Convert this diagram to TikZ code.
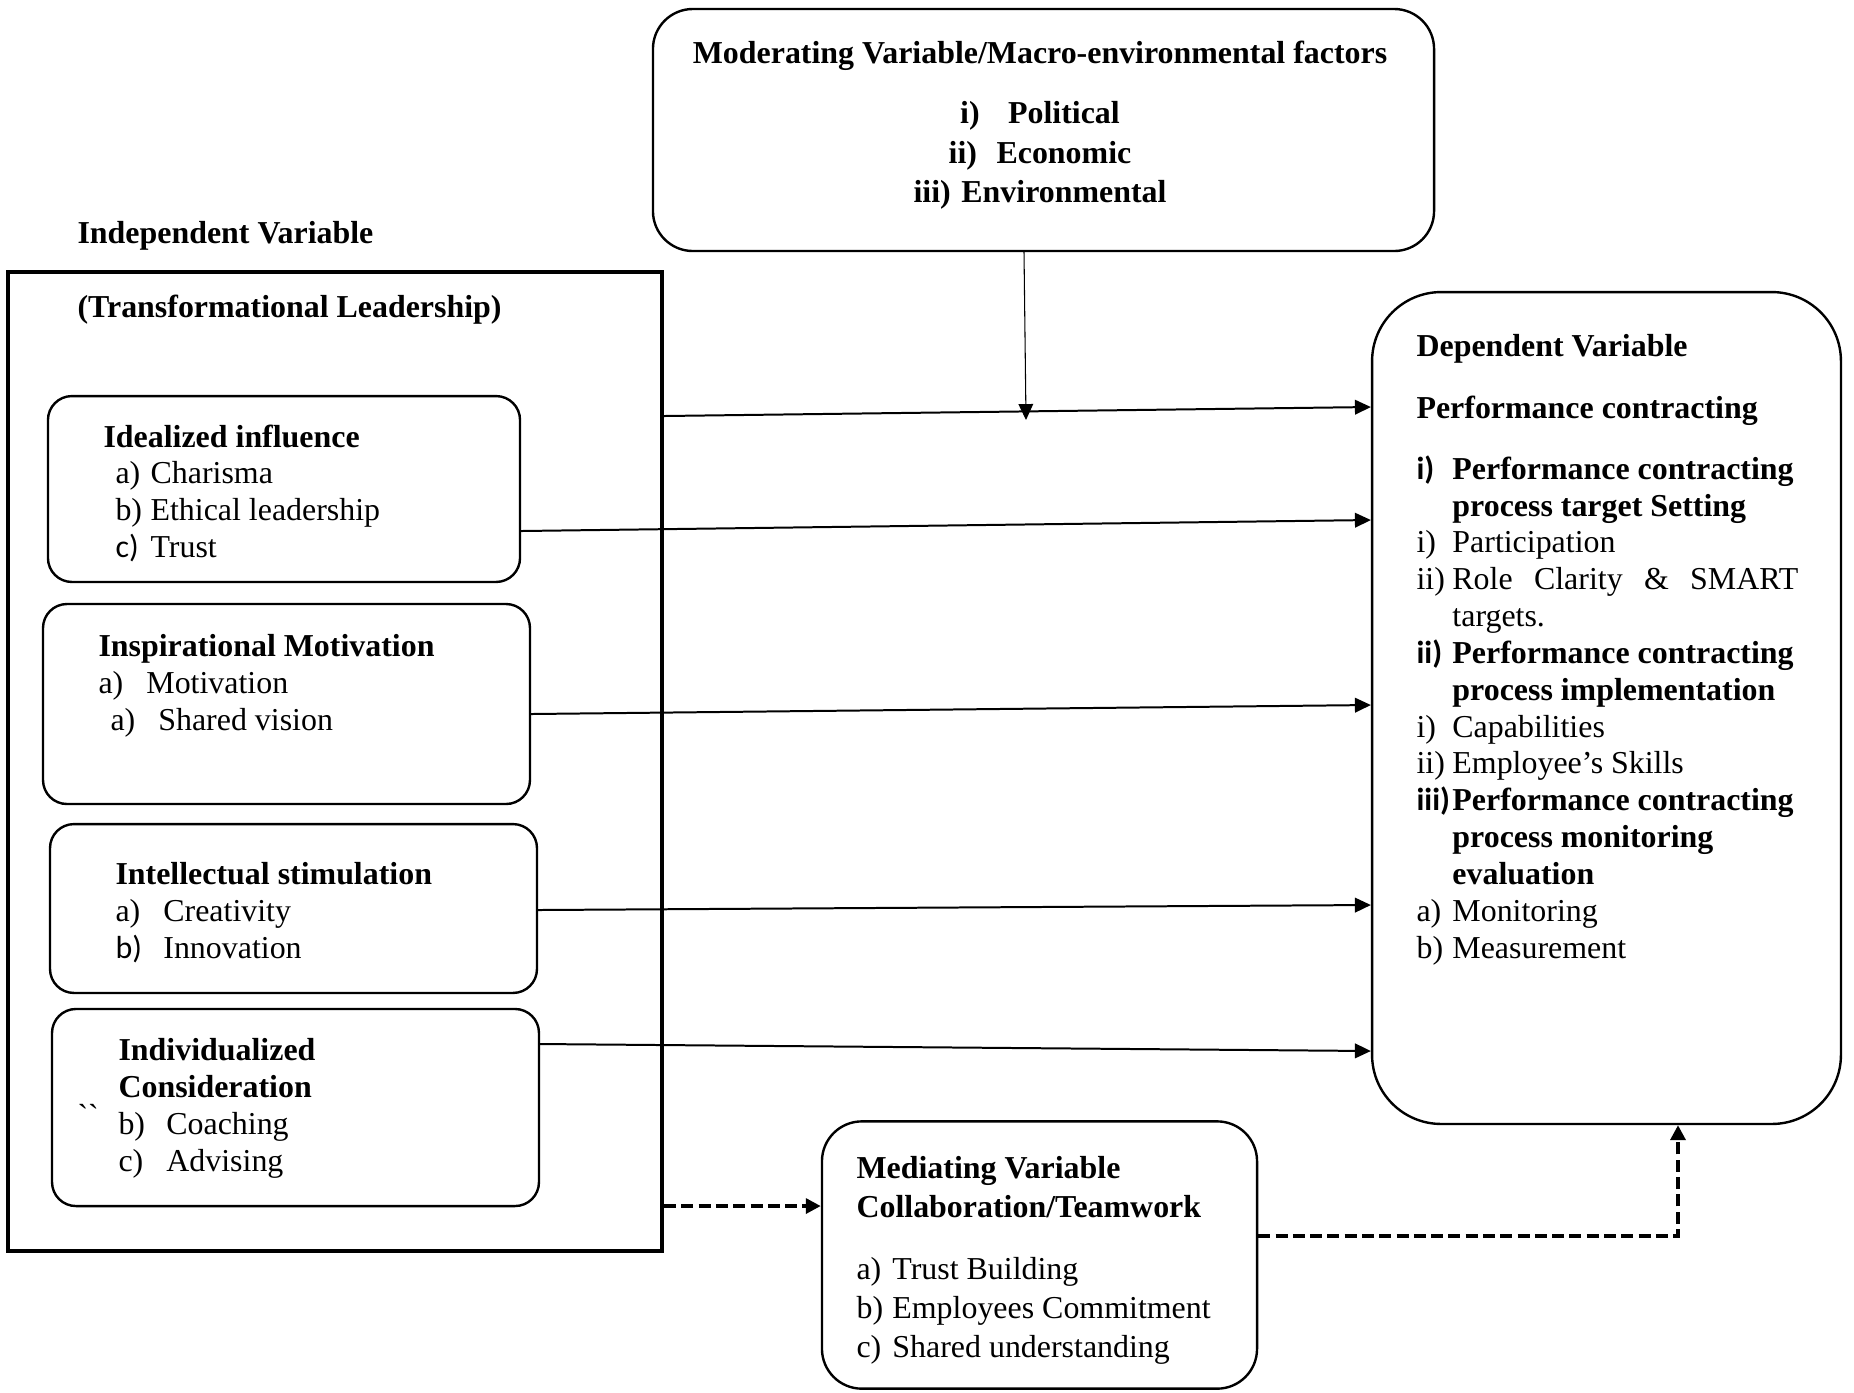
\documentclass[tikz,border=0pt]{standalone}
\usepackage{fontspec}
\setmainfont{Liberation Serif}
\newfontfamily\calfont{Carlito}
\usepackage{tikz}
\usetikzlibrary{arrows.meta, positioning, calc}

% label box of fixed width, then the item text
\newcommand{\itm}[3]{\makebox[#1][l]{#2}#3}

\begin{document}
\begin{tikzpicture}[x=0.376pt, y=-0.376pt,
			card/.style={rectangle, draw, line width=0.9pt, rounded corners=9pt},
			frame/.style={rectangle, draw, line width=1.6pt},
			txt/.style={anchor=north west, inner sep=0pt, align=left, font=\fontsize{12}{13.85}\selectfont},
			arrow/.style={-{Triangle[length=6pt, width=5.5pt]}, line width=0.75pt},
			thinarrow/.style={-{Triangle[length=6pt, width=5.5pt]}, line width=0.4pt},
			dasharrow/.style={-{Triangle[length=5.6pt, width=5.6pt]}, line width=1.3pt, dash pattern=on 4.5pt off 2pt}
		]
		\useasboundingbox (0,0) rectangle (1854,1392);
		
		% Containers
		\node[card, rounded corners=15pt, minimum width=293.7pt, minimum height=91pt] (moderating) at (1043.5,130) {};
		\node[frame, minimum width=245.9pt, minimum height=368.1pt] (indep) at (335,761.5) {};
		\node[card, rounded corners=26pt, minimum width=176.3pt, minimum height=312.8pt] (dependent) at (1606.5,708) {};
		\node[card, rounded corners=15pt, minimum width=163.6pt, minimum height=100.5pt] (mediating) at (1039.5,1255) {};
		
		% Leadership dimensions
		\node[card, minimum width=177.5pt, minimum height=69.9pt] (idealized) at (284,489) {};
		\node[card, minimum width=183.1pt, minimum height=75.2pt] (inspirational) at (286.5,704) {};
		\node[card, minimum width=183.1pt, minimum height=63.5pt] (intellectual) at (293.5,908.5) {};
		\node[card, minimum width=183.1pt, minimum height=74.1pt] (individualized) at (295.5,1107.5) {};
		
		% Titles
		\node[txt, font=\fontsize{12}{13.8}\selectfont\bfseries] (indeptitle) at (77,221) {Independent Variable};
		\node[txt, font=\fontsize{12}{13.8}\selectfont\bfseries] (transtitle) at (77,294) {(Transformational Leadership)};
		
		% Box texts
		\node[txt, anchor=north, align=center, font=\fontsize{12}{14.8}\selectfont\bfseries] (modtext) at (1040,40)
			{Moderating Variable/Macro-environmental factors\\[8pt]
			 \itm{18pt}{i)}{Political}\\ \itm{18pt}{ii)}{Economic}\\ \itm{18pt}{iii)}{Environmental}};
		\node[txt] (idealtext) at (103,424)
			{\textbf{Idealized influence}\\
			 \hspace*{4.5pt}\itm{13.2pt}{a)}{Charisma}\\
			 \hspace*{4.5pt}\itm{13.2pt}{b)}{Ethical leadership}\\
			 \hspace*{4.5pt}\itm{13.2pt}{\calfont c)}{Trust}};
		\node[txt] (inspirtext) at (98,634)
			{\textbf{Inspirational Motivation}\\
			 \itm{18pt}{a)}{Motivation}\\
			 \hspace*{4.5pt}\itm{18pt}{a)}{Shared vision}};
		\node[txt] (intelltext) at (115,862)
			{\textbf{Intellectual stimulation}\\
			 \itm{18pt}{a)}{Creativity}\\
			 \itm{18pt}{\calfont b)}{Innovation}};
		\node[txt] (indivtext) at (118,1038)
			{\textbf{Individualized}\\
			 \textbf{Consideration}\\
			 \itm{18pt}{b)}{Coaching}\\
			 \itm{18pt}{c)}{Advising}};
		\node[txt] (ticks) at (77,1104) {\textasciigrave\textasciigrave};
		\node[txt] (deptext) at (1416,334)
			{\textbf{Dependent Variable}\\[9.4pt]
			 \textbf{Performance contracting}\\[9pt]
			 \itm{13.5pt}{\calfont\bfseries i)}{\textbf{Performance contracting}}\\
			 \hspace*{13.5pt}\textbf{process target Setting}\\
			 \itm{13.5pt}{i)}{Participation}\\
			 \itm{13.5pt}{ii)}{\makebox[130pt][s]{Role Clarity \& SMART}}\\
			 \hspace*{13.5pt}targets.\\
			 \itm{13.5pt}{\calfont\bfseries ii)}{\textbf{Performance contracting}}\\
			 \hspace*{13.5pt}\textbf{process implementation}\\
			 \itm{13.5pt}{i)}{Capabilities}\\
			 \itm{13.5pt}{ii)}{Employee's Skills}\\
			 \itm{13.5pt}{\calfont\bfseries iii)}{\textbf{Performance contracting}}\\
			 \hspace*{13.5pt}\textbf{process monitoring}\\
			 \hspace*{13.5pt}\textbf{evaluation}\\
			 \itm{13.5pt}{a)}{Monitoring}\\
			 \itm{13.5pt}{b)}{Measurement}};
		\node[txt, font=\fontsize{12}{14.7}\selectfont] (medtext) at (856,1156)
			{\textbf{Mediating Variable}\\
			 \textbf{Collaboration/Teamwork}\\[8.6pt]
			 \itm{13.5pt}{a)}{Trust Building}\\
			 \itm{13.5pt}{b)}{Employees Commitment}\\
			 \itm{13.5pt}{c)}{Shared understanding}};
		
		% Relationships
		\coordinate (modjoin) at (1026,420);
		\draw[arrow] (indep.east |- 0,416) -- (dependent.west |- 0,407);
		\draw[thinarrow] (moderating.south -| 1024,0) -- (modjoin);
		\draw[arrow] (idealized.east |- 0,531) -- (dependent.west |- 0,520);
		\draw[arrow] (inspirational.east |- 0,714) -- (dependent.west |- 0,705);
		\draw[arrow] (intellectual.east |- 0,910) -- (dependent.west |- 0,905);
		\draw[arrow] (individualized.east |- 0,1044) -- (dependent.west |- 0,1051);
		\draw[dasharrow] (indep.east |- 0,1206) -- (mediating.west |- 0,1206);
		\draw[dasharrow] (mediating.east |- 0,1236) -| (dependent.south -| 1678,0);
\end{tikzpicture}
\end{document}
